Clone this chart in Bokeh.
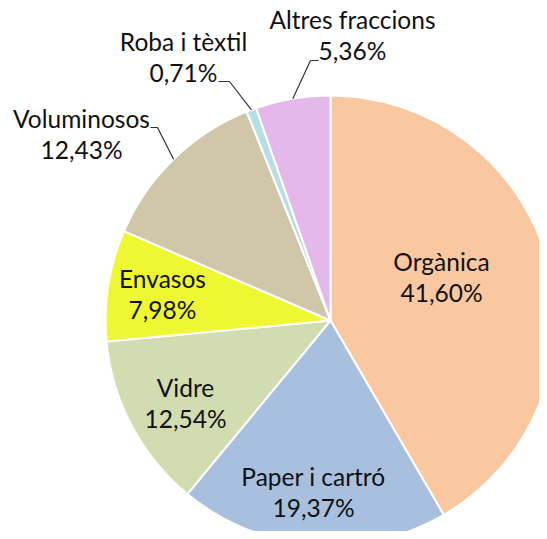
import math
from bokeh.plotting import figure
from bokeh.models import Range1d, ColumnDataSource
from bokeh.core.properties import value
from bokeh.embed import file_html
from bokeh.resources import INLINE

# ---- data ----
categories = ["Orgànica", "Paper i cartró", "Vidre", "Envasos",
              "Voluminosos", "Roba i tèxtil", "Altres fraccions"]
shares = [41.60, 19.37, 12.54, 7.98, 12.43, 0.71, 5.36]
pct_labels = ["41,60%", "19,37%", "12,54%", "7,98%", "12,43%", "0,71%", "5,36%"]

# ---- style / layout ----
colors = ["#FAC8A0", "#A8C0DE", "#D1DDB1", "#EFF733", "#CFC7A8", "#B7DDE8", "#E5B8EB"]
W, H = 539, 531
TOP = H  # data y of the top edge

def py(y_from_top):
    return TOP - y_from_top

CX, CY, R = 330, py(320), 225

# label anchor (x, baseline of name) in pixel coords, y measured from top
label_pos = [(441, 270), (313, 485), (185, 396), (162, 287),
             (81, 127), (183, 50), (352, 28)]
line_gap = 31
text_shift = 9  # compensation for baseline rendering

total = sum(shares)
starts, ends, mids = [], [], []
cum = 0.0
for s in shares:
    a0 = math.pi / 2 - 2 * math.pi * cum / total
    cum += s
    a1 = math.pi / 2 - 2 * math.pi * cum / total
    starts.append(a0)
    ends.append(a1)
    mids.append((a0 + a1) / 2)

src = ColumnDataSource(dict(start=starts, end=ends, color=colors, cat=categories))

p = figure(width=W, height=H, output_backend="svg", toolbar_location=None,
           x_range=Range1d(0, W), y_range=Range1d(0, H),
           x_axis_type=None, y_axis_type=None, min_border=0,
           outline_line_color=None, background_fill_color="white",
           border_fill_color="white")
p.grid.visible = False

p.wedge(x=CX, y=CY, radius=R, start_angle="start", end_angle="end",
        direction="clock", fill_color="color", line_color="white",
        line_width=2, source=src)

# labels
lx = [pos[0] for pos in label_pos]
ly1 = [py(pos[1] - text_shift) for pos in label_pos]
ly2 = [py(pos[1] + line_gap - text_shift) for pos in label_pos]
p.text(x=lx, y=ly1, text=categories, text_align="center",
       text_baseline="alphabetic", text_font=value("Lato"),
       text_font_size="24.5px", text_color="#111111")
p.text(x=lx, y=ly2, text=pct_labels, text_align="center",
       text_baseline="alphabetic", text_font=value("Lato"),
       text_font_size="24.5px", text_color="#111111")

# leader lines for outside labels (Voluminosos, Roba i tèxtil, Altres fraccions)
def edge(i):
    return CX + R * math.cos(mids[i]), CY + R * math.sin(mids[i])

xs, ys = [], []
ex, ey = edge(4)
xs.append([150, 157, ex]); ys.append([py(127), py(127), ey])
ex, ey = edge(5)
xs.append([218, 229, ex]); ys.append([py(81), py(81), ey])
ex, ey = edge(6)
xs.append([318, 310, ex]); ys.append([py(60), py(60), ey])
p.multi_line(xs=xs, ys=ys, line_color="#333333", line_width=1.2)

open("out.html", "w").write(file_html(p, INLINE))
